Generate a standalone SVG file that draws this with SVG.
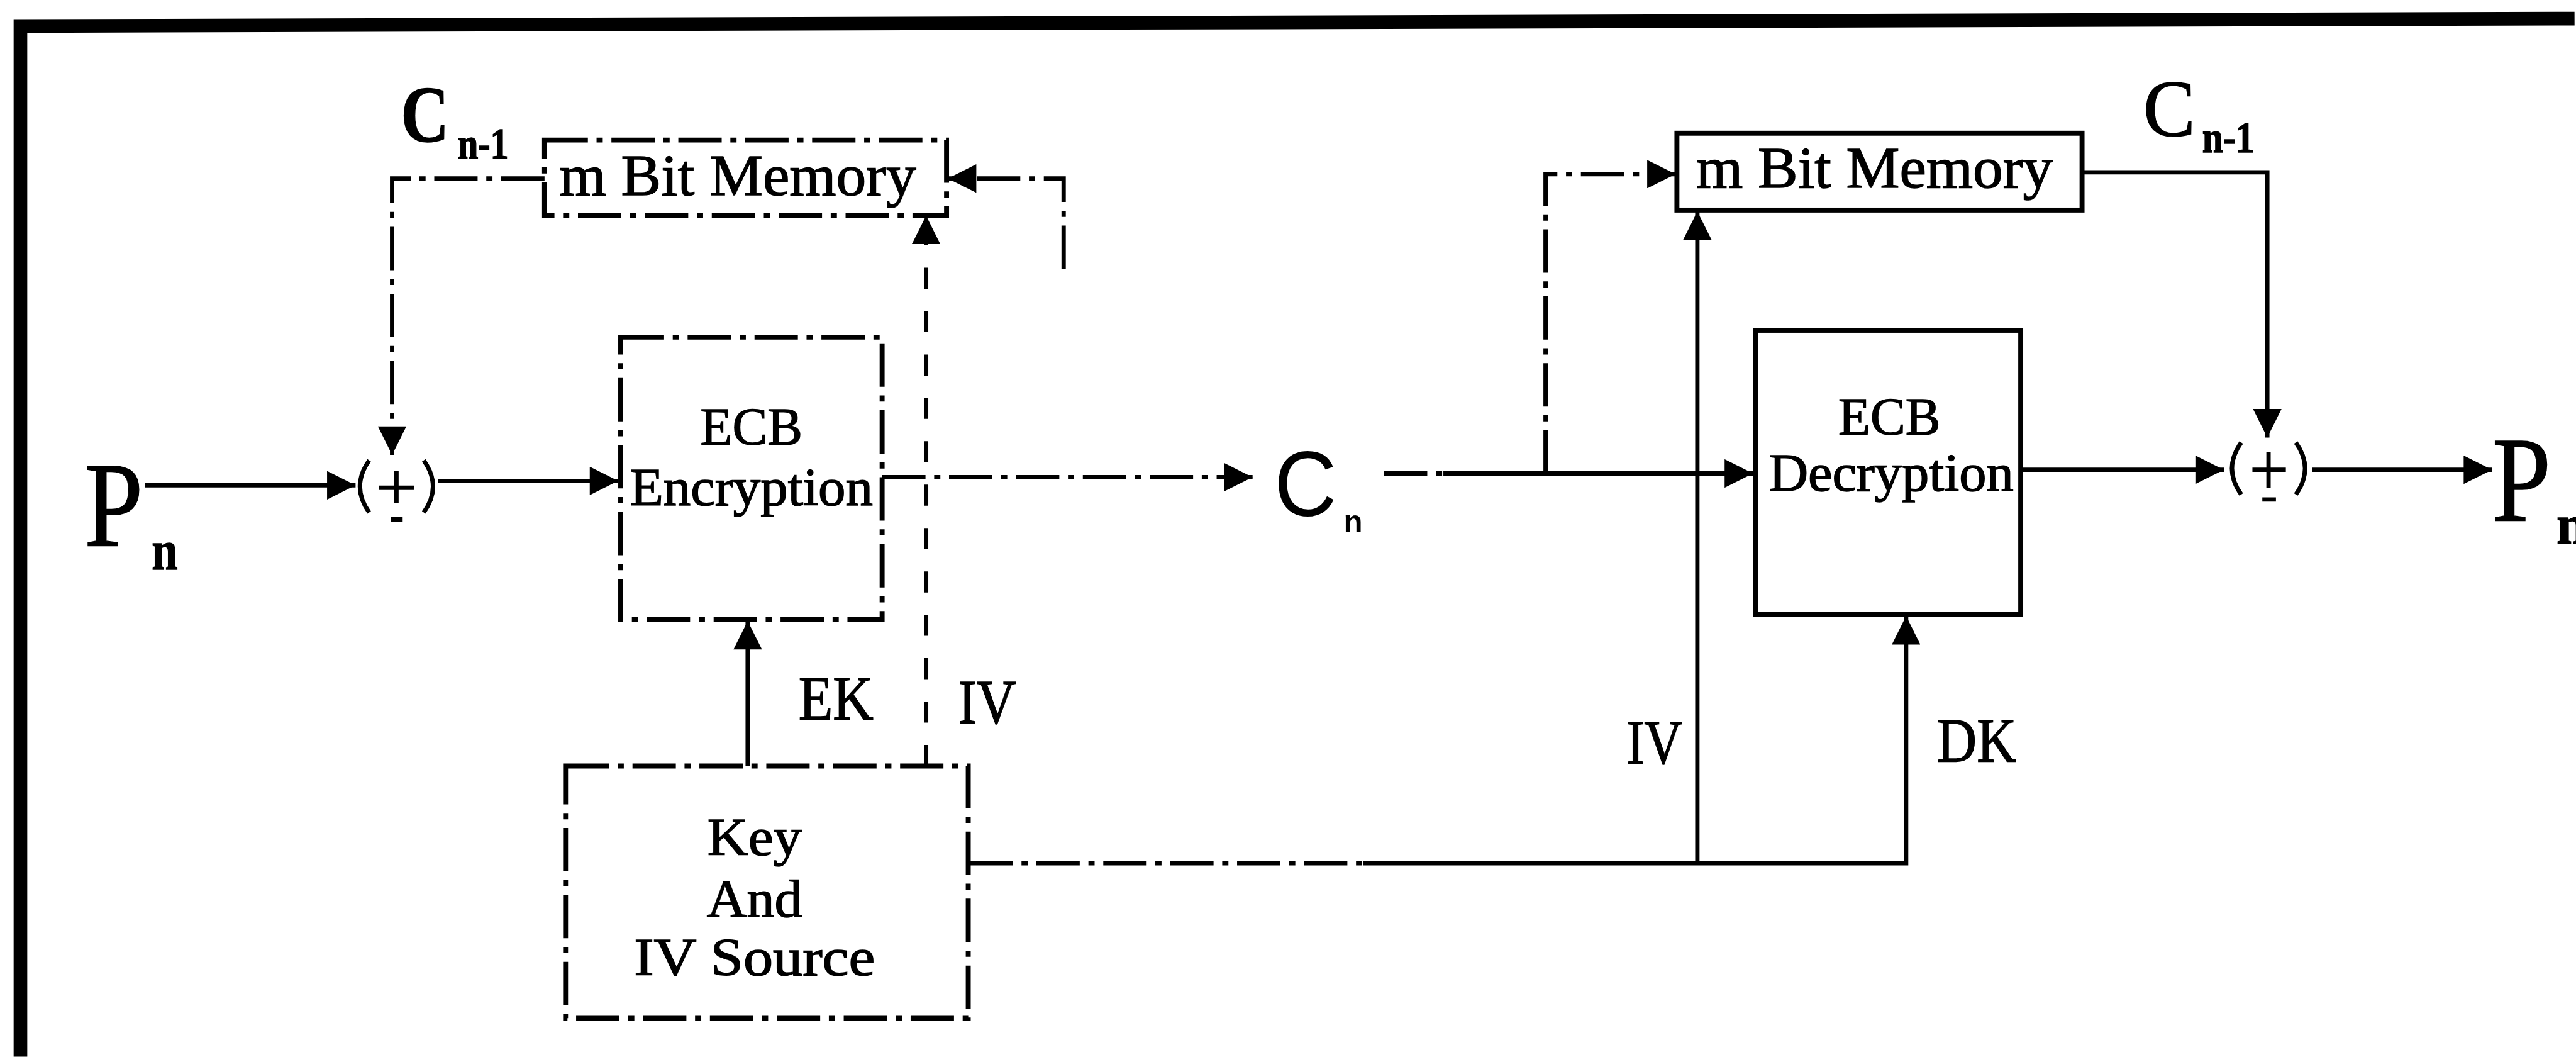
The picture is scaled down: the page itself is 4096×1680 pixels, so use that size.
<svg xmlns="http://www.w3.org/2000/svg" width="4096" height="1680" viewBox="0 0 4096 1680">
<style>
.ln{fill:none;stroke:#000;stroke-width:7;stroke-linecap:butt;stroke-linejoin:miter}
.dd{stroke-dasharray:70 14 10 14}
.sp{stroke-dasharray:34 36}
.bx{fill:none;stroke:#000;stroke-width:8}
.t{font-family:"Liberation Serif","Times New Roman",serif;fill:#000;stroke:#000;stroke-width:1.5}
.s{font-family:"Liberation Sans",Arial,sans-serif;fill:#000}
</style>
<defs>
<marker id="ah" viewBox="0 0 10 10" refX="10" refY="5" markerWidth="48" markerHeight="46" markerUnits="userSpaceOnUse" orient="auto">
<path d="M0,0 L10,5 L0,10 z" fill="#000"/>
</marker>
</defs>
<rect width="4096" height="1680" fill="#fff"/>
<g transform="scale(0.985)">
<g id="frame">
<path d="M33,1705 L33,42 L4156,30" fill="none" stroke="#000" stroke-width="22"/>
</g>
<g id="connectors">
<path class="ln" d="M234,783 H574" marker-end="url(#ah)"/>
<path class="ln" d="M707,776 H998" marker-end="url(#ah)"/>
<path class="ln dd" d="M879,288 H633 V734" marker-end="url(#ah)"/>
<path class="ln dd" d="M1424,770 H2022" marker-end="url(#ah)"/>
<path class="ln" d="M1207,1236 V1002" marker-end="url(#ah)"/>
<path class="ln sp" d="M1495,1236 V348" marker-end="url(#ah)"/>
<path class="ln dd" d="M1717,434 V288 H1530" marker-end="url(#ah)"/>
<path class="ln dd" d="M2234,764 H2330"/>
<path class="ln" d="M2330,764 H2830" marker-end="url(#ah)"/>
<path class="ln dd" d="M2495,764 V281 H2705" marker-end="url(#ah)"/>
<path class="ln dd" d="M1565,1393 H2200"/>
<path class="ln" d="M2200,1393 H3077 V994" marker-end="url(#ah)"/>
<path class="ln" d="M2740,1393 V341" marker-end="url(#ah)"/>
<path class="ln" d="M3361,278 H3660 V706" marker-end="url(#ah)"/>
<path class="ln" d="M3262,758 H3590" marker-end="url(#ah)"/>
<path class="ln" d="M3732,758 H4023" marker-end="url(#ah)"/>
</g>
<g id="xor-enc">
<path class="ln" d="M596,743 Q566,785 596,827 M684,743 Q714,785 684,827 M631,838 H650 M640,760 V812 M612,787 H668"/>
</g>
<g id="xor-dec">
<path class="ln" d="M3618,714 Q3588,756 3618,798 M3706,714 Q3736,756 3706,798 M3652,806 H3674 M3662,729 V787 M3636,758 H3690"/>
</g>
<g id="mem-enc">
<rect class="bx dd" x="879" y="226" width="649" height="122"/>
<text class="t" x="903" y="315" font-size="94" textLength="576" lengthAdjust="spacingAndGlyphs">m Bit Memory</text>
</g>
<g id="ecb-enc">
<rect class="bx dd" x="1002" y="544" width="422" height="456"/>
<text class="t" x="1213" y="718" font-size="86" text-anchor="middle" textLength="165" lengthAdjust="spacingAndGlyphs">ECB</text>
<text class="t" x="1213" y="815" font-size="86" text-anchor="middle" textLength="392" lengthAdjust="spacingAndGlyphs">Encryption</text>
</g>
<g id="key-source">
<rect class="bx dd" x="913" y="1236" width="650" height="407"/>
<text class="t" x="1218" y="1380" font-size="86" text-anchor="middle" textLength="152" lengthAdjust="spacingAndGlyphs">Key</text>
<text class="t" x="1218" y="1479" font-size="86" text-anchor="middle" textLength="154" lengthAdjust="spacingAndGlyphs">And</text>
<text class="t" x="1218" y="1574" font-size="86" text-anchor="middle" textLength="389" lengthAdjust="spacingAndGlyphs">IV Source</text>
</g>
<g id="mem-dec">
<rect class="bx" x="2707" y="215" width="654" height="124"/>
<text class="t" x="2738" y="303" font-size="94" textLength="576" lengthAdjust="spacingAndGlyphs">m Bit Memory</text>
</g>
<g id="ecb-dec">
<rect class="bx" x="2834" y="533" width="428" height="458"/>
<text class="t" x="3050" y="702" font-size="86" text-anchor="middle" textLength="165" lengthAdjust="spacingAndGlyphs">ECB</text>
<text class="t" x="3053" y="792" font-size="86" text-anchor="middle" textLength="395" lengthAdjust="spacingAndGlyphs">Decryption</text>
</g>
<g id="labels">
<text class="t" x="136" y="881" font-size="195" textLength="95" lengthAdjust="spacingAndGlyphs">P</text>
<text class="t" x="245" y="919" font-size="90" font-weight="bold" textLength="42" lengthAdjust="spacingAndGlyphs">n</text>
<text class="t" x="647" y="228" font-size="130" font-weight="bold" textLength="78" lengthAdjust="spacingAndGlyphs">C</text>
<text class="t" x="739" y="256" font-size="70" font-weight="bold" textLength="82" lengthAdjust="spacingAndGlyphs">n-1</text>
<text class="s" x="2057" y="832" font-size="148" textLength="101" lengthAdjust="spacingAndGlyphs">C</text>
<text class="s" x="2169" y="859" font-size="50" font-weight="bold">n</text>
<text class="t" x="3460" y="219" font-size="130" textLength="84" lengthAdjust="spacingAndGlyphs">C</text>
<text class="t" x="3555" y="246" font-size="70" font-weight="bold" textLength="84" lengthAdjust="spacingAndGlyphs">n-1</text>
<text class="t" x="4023" y="841" font-size="195" textLength="95" lengthAdjust="spacingAndGlyphs">P</text>
<text class="t" x="4127" y="877" font-size="90" font-weight="bold">n</text>
<text class="t" x="1289" y="1160" font-size="100" textLength="121" lengthAdjust="spacingAndGlyphs">EK</text>
<text class="t" x="1547" y="1167" font-size="100" textLength="93" lengthAdjust="spacingAndGlyphs">IV</text>
<text class="t" x="2626" y="1231" font-size="100" textLength="90" lengthAdjust="spacingAndGlyphs">IV</text>
<text class="t" x="3127" y="1228" font-size="100" textLength="128" lengthAdjust="spacingAndGlyphs">DK</text>
</g>
</g>
</svg>
